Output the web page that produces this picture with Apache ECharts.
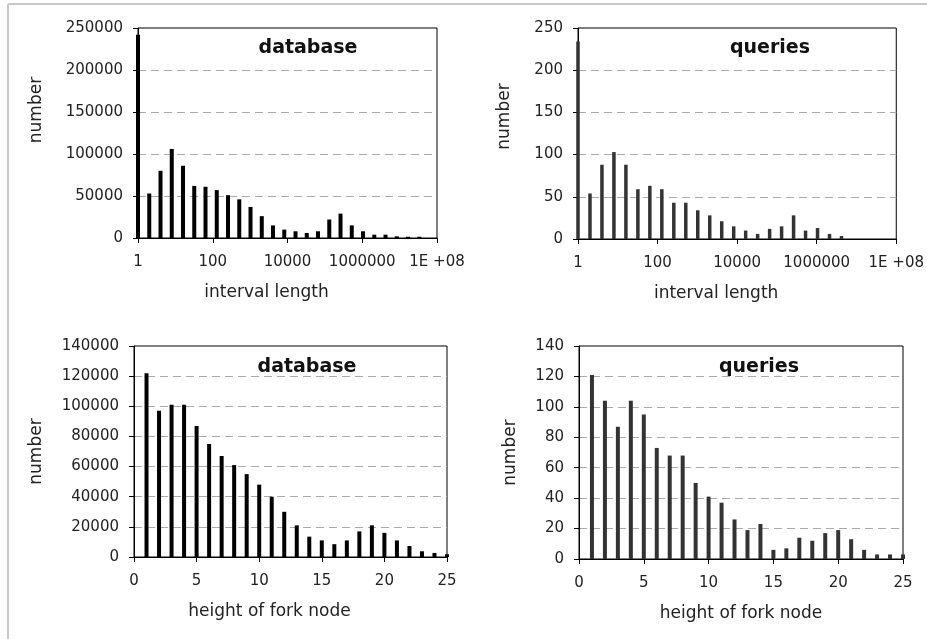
<!DOCTYPE html>
<html>
<head>
<meta charset="utf-8">
<title>interval length / fork node height</title>
<script src="https://cdn.jsdelivr.net/npm/echarts@6/dist/echarts.min.js"></script>
<style>
    html, body { margin: 0; padding: 0; background: #fff; }
    #chart { width: 927px; height: 639px; }
</style>
</head>
<body>
<div id="chart"></div>
<script>
// interval lengths are powers of two (1 .. 2^25)
const intervalLengths = [1, 2, 4, 8, 16, 32, 64, 128, 256, 512, 1024, 2048, 4096, 8192,
    16384, 32768, 65536, 131072, 262144, 524288, 1048576, 2097152, 4194304, 8388608,
    16777216, 33554432];
const dbIntervals = [242000, 53000, 80000, 106000, 86000, 62000, 61000, 57000, 51000, 46000,
    37000, 26000, 15000, 10000, 8000, 6000, 8000, 22000, 29000, 15000, 8000, 4000, 4000,
    2000, 1500, 1500];
const queryIntervals = [234, 54, 88, 103, 88, 59, 63, 59, 43, 43, 34, 28, 21, 15, 10, 6, 12,
    15, 28, 10, 13, 6, 3.5];

const forkHeights = [1, 2, 3, 4, 5, 6, 7, 8, 9, 10, 11, 12, 13, 14, 15, 16, 17, 18, 19, 20,
    21, 22, 23, 24, 25];
const dbForks = [122000, 97000, 101000, 101000, 87000, 75000, 67000, 61000, 55000, 48000,
    40000, 30000, 21000, 13500, 11000, 8500, 11000, 17000, 21000, 16000, 11000, 7300, 3800,
    2700, 1800];
const queryForks = [121, 104, 87, 104, 95, 73, 68, 68, 50, 41, 37, 26, 19, 23, 6, 7, 14, 12,
    17, 19, 13, 6, 3, 3, 3];

// labels for 10^0, 10^2, 10^4, 10^6, 10^8
const logTicks = ['1', '100', '10000', '1000000', '1E +08'];

const FONT = 'DejaVu Sans';
const TXT = '#222';

function pairs(xs, ys) {
    return ys.map((y, i) => [xs[i], y]);
}

function yAxis(grid, max, step, gap, offsetUp) {
    return {
        type: 'value', gridIndex: grid, min: 0, max: max, interval: step,
        name: 'number', nameLocation: 'middle', nameGap: gap,
        nameTextStyle: { fontFamily: FONT, fontSize: 17, color: TXT,
            padding: [0, 0, 0, offsetUp * 2] },
        axisLine: { show: true, lineStyle: { color: '#000', width: 1 } },
        axisTick: { show: true, inside: false, length: 5, lineStyle: { color: '#000' } },
        axisLabel: { fontFamily: FONT, fontSize: 15, color: TXT, margin: 15,
            formatter: v => String(v) },
        splitLine: { show: true, showMinLine: false, showMaxLine: false,
            lineStyle: { color: '#aaa', type: [8, 5], width: 1 } }
    };
}

function logXAxis(grid) {
    return {
        type: 'log', logBase: 10, gridIndex: grid, min: 1, max: 100000000, interval: 2,
        name: 'interval length', nameLocation: 'middle', nameGap: 46,
        nameTextStyle: { fontFamily: FONT, fontSize: 17, color: TXT, padding: [0, 42, 0, 0] },
        axisLine: { lineStyle: { color: '#000', width: 1 } },
        axisTick: { show: true, length: 5, lineStyle: { color: '#000' } },
        axisLabel: {
            fontFamily: FONT, fontSize: 15, color: TXT, margin: 17,
            formatter: v => {
                let e = Math.round(Math.log10(v));
                return logTicks[e / 2] || '';
            }
        },
        splitLine: { show: false }
    };
}

function linXAxis(grid, shift) {
    return {
        type: 'value', gridIndex: grid, min: 0, max: 25, interval: 5,
        name: 'height of fork node', nameLocation: 'middle', nameGap: 46,
        nameTextStyle: { fontFamily: FONT, fontSize: 17, color: TXT, padding: [0, shift, 0, 0] },
        axisLine: { lineStyle: { color: '#000', width: 1 } },
        axisTick: { show: true, length: 5, lineStyle: { color: '#000' } },
        axisLabel: { fontFamily: FONT, fontSize: 15, color: TXT, margin: 17 },
        splitLine: { show: false }
    };
}

function bars(idx, data, color, w) {
    return {
        type: 'bar', xAxisIndex: idx, yAxisIndex: idx, data: data,
        barWidth: w, itemStyle: { color: color }, silent: true, animation: false
    };
}

function label(text, x, y) {
    return {
        text: text, left: x, top: y, textAlign: 'center',
        textStyle: { fontFamily: FONT, fontSize: 19, fontWeight: 'bold', color: '#111' }
    };
}

const chart = echarts.init(document.getElementById('chart'));

const option = {
    backgroundColor: '#fff',
    animation: false,
    title: [
        label('database', 303, 34),
        label('queries', 765, 34),
        label('database', 302, 353),
        label('queries', 754, 353)
    ],
    grid: [
        { left: 138, top: 28, width: 299, height: 210, show: true, borderColor: '#000', borderWidth: 1 },
        { left: 578, top: 28, width: 319, height: 211, show: true, borderColor: '#000', borderWidth: 1 },
        { left: 134, top: 346, width: 313, height: 211, show: true, borderColor: '#000', borderWidth: 1 },
        { left: 579, top: 346, width: 324, height: 213, show: true, borderColor: '#000', borderWidth: 1 }
    ],
    xAxis: [
        logXAxis(0),
        logXAxis(1),
        linXAxis(2, 42),
        linXAxis(3, 0)
    ],
    yAxis: [
        yAxis(0, 250000, 50000, 93, 23),
        yAxis(1, 250, 50, 65, 17),
        yAxis(2, 140000, 20000, 89, 0),
        yAxis(3, 140, 20, 60, 0)
    ],
    series: [
        bars(0, pairs(intervalLengths, dbIntervals), '#000', 4),
        bars(1, pairs(intervalLengths, queryIntervals), '#333', 3.5),
        bars(2, pairs(forkHeights, dbForks), '#000', 4),
        bars(3, pairs(forkHeights, queryForks), '#333', 4)
    ],
    graphic: [
        { type: 'line', shape: { x1: 8, y1: 4, x2: 927, y2: 4 },
          style: { stroke: '#c8c8c8', lineWidth: 2 }, silent: true },
        { type: 'line', shape: { x1: 8, y1: 4, x2: 8, y2: 639 },
          style: { stroke: '#c8c8c8', lineWidth: 2 }, silent: true }
    ]
};

chart.setOption(option);
</script>
</body>
</html>
